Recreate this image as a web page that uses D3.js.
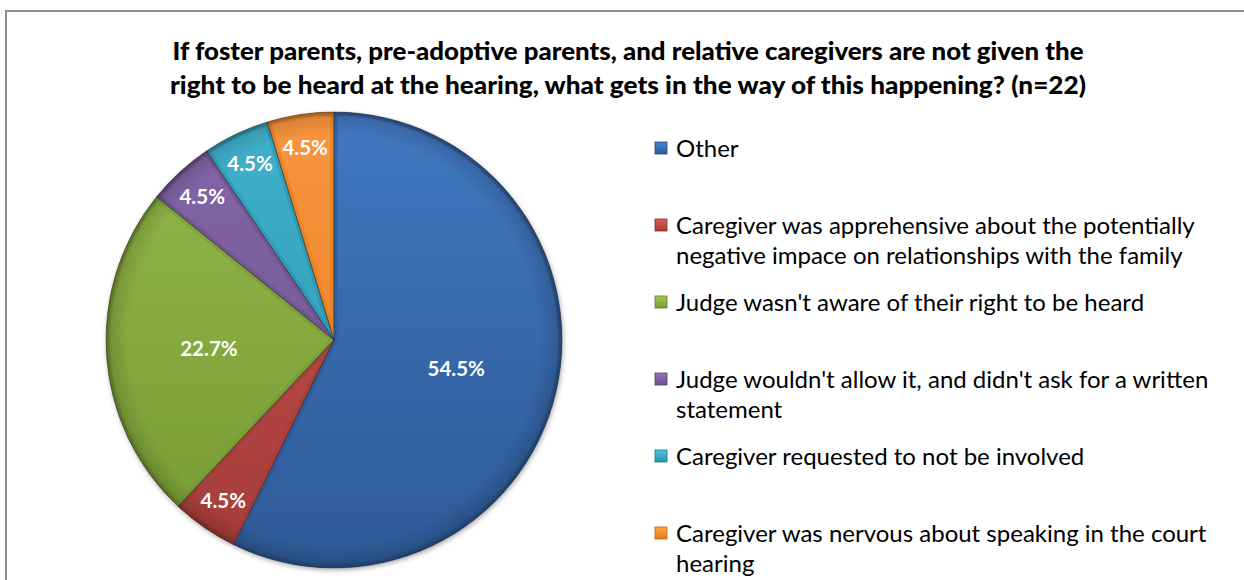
<!DOCTYPE html>
<html>
<head>
<meta charset="utf-8">
<script src="https://cdn.jsdelivr.net/npm/d3@7"></script>
<style>
  html, body { margin: 0; padding: 0; background: #ffffff; }
  svg { display: block; }
</style>
</head>
<body>
<svg id="chart" width="1244" height="580"></svg>
<script>
// Survey responses (share of n=22), listed clockwise from 12 o'clock
const categories = [
  "Other",
  "Caregiver was apprehensive about the potentially negative impace on relationships with the family",
  "Judge wasn't aware of their right to be heard",
  "Judge wouldn't allow it, and didn't ask for a written statement",
  "Caregiver requested to not be involved",
  "Caregiver was nervous about speaking in the court hearing"
];
const values = [54.5, 4.5, 22.7, 4.5, 4.5, 4.5];

// Legend text broken into display lines
const legendLines = [
  ["Other"],
  ["Caregiver was apprehensive about the potentially", "negative impace on relationships with the family"],
  ["Judge wasn't aware of their right to be heard"],
  ["Judge wouldn't allow it, and didn't ask for a written", "statement"],
  ["Caregiver requested to not be involved"],
  ["Caregiver was nervous about speaking in the court", "hearing"]
];

const titleLines = [
  "If foster parents, pre-adoptive parents, and relative caregivers are not given the",
  "right to be heard at the hearing, what gets in the way of this happening? (n=22)"
];

// Office-style palette: [light, dark] per slice
const palette = [
  ["#4178c0", "#2d5996"],
  ["#c9524e", "#a23c39"],
  ["#93b84a", "#779a33"],
  ["#8567a8", "#6a508c"],
  ["#41b1cc", "#2a92ad"],
  ["#f8953f", "#e47c1c"]
];

const svg = d3.select("#chart");
const defs = svg.append("defs");

// Chart frame
svg.append("rect")
  .attr("x", 6).attr("y", 11)
  .attr("width", 1400).attr("height", 800)
  .attr("fill", "none")
  .attr("stroke", "#8e8e8e")
  .attr("stroke-width", 2);

// Title
const titleFont = "Lato, 'Open Sans', sans-serif";
const titleCx = 628;
const titleWidths = [911, 916];
svg.append("g").selectAll("text")
  .data(titleLines)
  .join("text")
  .attr("x", (d, i) => titleCx - titleWidths[i] / 2)
  .attr("y", (d, i) => 60 + i * 34)
  .attr("textLength", (d, i) => titleWidths[i])
  .attr("lengthAdjust", "spacingAndGlyphs")
  .attr("font-family", titleFont)
  .attr("font-weight", 900)
  .attr("font-size", 24)
  .attr("fill", "#000")
  .text(d => d);

// Pie geometry
const cx = 334, cy = 340, R = 228;
const pie = d3.pie().sort(null).value(d => d)(values);
const arc = d3.arc().innerRadius(0).outerRadius(R);
const fmt = d => d3.format(".1f")(d) + "%";

// Soft drop shadow under the pie
const shadow = defs.append("filter").attr("id", "pieShadow")
  .attr("x", "-10%").attr("y", "-10%").attr("width", "120%").attr("height", "120%");
shadow.append("feDropShadow")
  .attr("dx", 1).attr("dy", 2).attr("stdDeviation", 2.5)
  .attr("flood-color", "#000").attr("flood-opacity", 0.35);

// Vertical shading per slice (coordinates relative to the pie centre)
palette.forEach((c, i) => {
  const g = defs.append("linearGradient")
    .attr("id", "grad" + i)
    .attr("gradientUnits", "userSpaceOnUse")
    .attr("x1", 0).attr("y1", -R)
    .attr("x2", 0).attr("y2", R);
  g.append("stop").attr("offset", "0%").attr("stop-color", c[0]);
  g.append("stop").attr("offset", "100%").attr("stop-color", c[1]);
});

// Rim darkening across the whole disc
const rim = defs.append("radialGradient")
  .attr("id", "rim")
  .attr("gradientUnits", "userSpaceOnUse")
  .attr("cx", 0).attr("cy", 0).attr("r", R);
rim.append("stop").attr("offset", "0.9").attr("stop-color", "#000").attr("stop-opacity", 0);
rim.append("stop").attr("offset", "0.975").attr("stop-color", "#000").attr("stop-opacity", 0.12);
rim.append("stop").attr("offset", "1").attr("stop-color", "#000").attr("stop-opacity", 0.32);

const pieG = svg.append("g").attr("transform", `translate(${cx},${cy})`);
const slicesG = pieG.append("g").attr("filter", "url(#pieShadow)");

// Clip paths so the bevel stroke stays inside each wedge
pie.forEach((d, i) => {
  defs.append("clipPath").attr("id", "clip" + i)
    .append("path").attr("d", arc(d));
});

slicesG.selectAll("path.slice")
  .data(pie)
  .join("path")
  .attr("class", "slice")
  .attr("d", arc)
  .attr("fill", (d, i) => `url(#grad${i})`)
  .attr("stroke", "none");

// Inner bevel band along each wedge edge
pieG.append("g").selectAll("path.bevel")
  .data(pie)
  .join("path")
  .attr("class", "bevel")
  .attr("d", arc)
  .attr("clip-path", (d, i) => `url(#clip${i})`)
  .attr("fill", "none")
  .attr("stroke", (d, i) => palette[i][1])
  .attr("stroke-width", 7)
  .attr("stroke-opacity", 0.6)
  .attr("stroke-linejoin", "round");

pieG.append("circle")
  .attr("r", R)
  .attr("fill", "url(#rim)");

// Thin dark outline on the wedges
pieG.append("g").selectAll("path.edge")
  .data(pie)
  .join("path")
  .attr("class", "edge")
  .attr("d", arc)
  .attr("fill", "none")
  .attr("stroke", "#2b2b2b")
  .attr("stroke-opacity", 0.55)
  .attr("stroke-width", 0.8);

// Data labels: large wedges inside, small ones near the rim
const labelArc = d => {
  const share = (d.endAngle - d.startAngle) / (2 * Math.PI);
  const r = share > 0.1 ? R * 0.55 : R * 0.855;
  return d3.arc().innerRadius(r).outerRadius(r).centroid(d);
};

pieG.append("g").selectAll("text")
  .data(pie)
  .join("text")
  .attr("transform", d => `translate(${labelArc(d)})`)
  .attr("text-anchor", "middle")
  .attr("dy", "0.36em")
  .attr("font-family", "Lato, 'Open Sans', sans-serif")
  .attr("font-weight", 700)
  .attr("font-size", 20.5)
  .attr("fill", "#ffffff")
  .text(d => fmt(d.data));

// Legend
const legendY = d3.scaleLinear().domain([0, categories.length - 1]).range([148, 533]);
const legend = svg.append("g");
const items = legend.selectAll("g.item")
  .data(categories.map((c, i) => ({ c, i })))
  .join("g")
  .attr("class", "item")
  .attr("transform", d => `translate(655,${legendY(d.i)})`);

palette.forEach((c, i) => {
  const g = defs.append("linearGradient")
    .attr("id", "lg" + i)
    .attr("x1", 0).attr("y1", 0).attr("x2", 0).attr("y2", 1);
  g.append("stop").attr("offset", "0%").attr("stop-color", d3.color(c[0]).brighter(0.3));
  g.append("stop").attr("offset", "100%").attr("stop-color", c[1]);
});

items.append("rect")
  .attr("x", 0).attr("y", -6)
  .attr("width", 12).attr("height", 12)
  .attr("fill", d => `url(#lg${d.i})`)
  .attr("stroke", d => d3.color(palette[d.i][1]).darker(0.6))
  .attr("stroke-width", 0.8);

items.append("text")
  .attr("x", 21)
  .attr("font-family", "Lato, 'Open Sans', sans-serif")
  .attr("font-size", 24)
  .attr("fill", "#000")
  .selectAll("tspan")
  .data(d => legendLines[d.i].map((t, k) => ({ t, k })))
  .join("tspan")
  .attr("x", 21)
  .attr("y", d => d.k * 30)
  .attr("dy", "0.36em")
  .text(d => d.t);
</script>
</body>
</html>
